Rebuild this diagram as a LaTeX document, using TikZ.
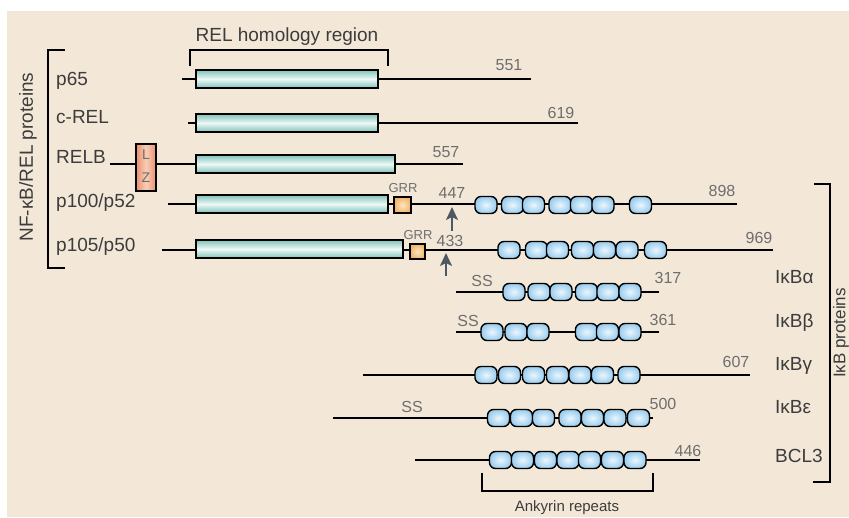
\documentclass[tikz,border=0pt]{standalone}
\usepackage{fontspec}
\setmainfont{Liberation Sans}
\usetikzlibrary{arrows.meta}
\definecolor{bg}{HTML}{F3E8D8}
\definecolor{relteal}{HTML}{7FC2B8}
\definecolor{relhi}{HTML}{EEF9F6}
\definecolor{ankblue}{HTML}{9CCDEE}
\definecolor{ankhi}{HTML}{EAF6FD}
\definecolor{grrorange}{HTML}{F3B46A}
\definecolor{grrhi}{HTML}{FDE6C4}
\definecolor{lzred}{HTML}{E9906E}
\definecolor{lzhi}{HTML}{F8CDB6}
\definecolor{labelgray}{HTML}{3C3C3C}
\definecolor{numgray}{HTML}{6E6E6E}
\definecolor{arrowgray}{HTML}{4C5863}
\begin{document}
\begin{tikzpicture}[x=1pt,y=-1pt,
 bb/.style={line width=1.6pt, draw=black},
 relbar/.style={draw=black, line width=1.6pt, top color=relteal, bottom color=relteal, middle color=relhi, minimum height=18pt, inner sep=0pt},
 ank/.style={draw=black, line width=1.4pt, rounded corners=6pt, inner color=ankhi, outer color=ankblue, minimum width=22pt, minimum height=17pt, inner sep=0pt},
 grrbox/.style={draw=black, line width=1.4pt, inner color=grrhi, outer color=grrorange, minimum width=16pt, minimum height=16pt, inner sep=0pt},
 lzbox/.style={draw=black, line width=1.4pt, left color=lzred, right color=lzred, middle color=lzhi, minimum width=20pt, minimum height=47pt, inner sep=0pt},
 lab/.style={font=\fontsize{19}{21}\selectfont, text=labelgray, inner sep=0pt, anchor=base west},
 num/.style={font=\fontsize{16}{18}\selectfont, text=numgray, inner sep=0pt},
 grrtext/.style={font=\fontsize{13}{15}\selectfont, text=numgray, inner sep=0pt},
 brk/.style={line width=1.8pt, draw=black},
 uparrow/.style={line width=2.2pt, draw=arrowgray, -{Stealth[length=13pt,width=12pt,inset=3pt]}},
]
\fill[white] (0,0) rectangle (849,517);
\fill[bg] (7,11) rectangle (849,517);
\useasboundingbox (0,0) rectangle (849,517);

% ---------- brackets ----------
\draw[brk] (65,50) -- (48,50) -- (48,268) -- (65,268);
\node[rotate=90, font=\fontsize{19}{21}\selectfont, text=labelgray, inner sep=0pt] (nfk) at (28,157) {NF-κB/REL proteins};
\draw[brk] (814,184) -- (830,184) -- (830,482) -- (813,482);
\node[rotate=90, font=\fontsize{17}{19}\selectfont, text=labelgray, inner sep=0pt] (ikbp) at (841,333) {IκB proteins};
\draw[brk] (190,66) -- (190,50) -- (388,50) -- (388,66);
\node[font=\fontsize{19}{21}\selectfont, text=labelgray, inner sep=0pt, anchor=base] (relh) at (287,41) {REL homology region};
\draw[brk] (482,473) -- (482,491) -- (653,491) -- (653,473);
\node[font=\fontsize{15}{17}\selectfont, text=labelgray, inner sep=0pt, anchor=base] (ankl) at (567,511) {Ankyrin repeats};

% ---------- p65 ----------
\coordinate (p65s) at (182,79); \coordinate (p65e) at (531,79);
\draw[bb] (p65s) -- (p65e);
\node[relbar, minimum width=182pt] (p65r) at (287,79) {};
\node[lab] (p65l) at (56,85) {p65};
\node[num] (p65n) at (509,65) {551};

% ---------- c-REL ----------
\coordinate (crs) at (188,123); \coordinate (cre) at (578,123);
\draw[bb] (crs) -- (cre);
\node[relbar, minimum width=182pt] (crr) at (287,123) {};
\node[lab] (crl) at (56,123) {c-REL};
\node[num] (crn) at (561,113) {619};

% ---------- RELB ----------
\coordinate (rbs) at (110,164); \coordinate (rbe) at (463,164);
\draw[bb] (rbs) -- (rbe);
\node[relbar, minimum width=199pt] (rbr) at (295.5,164) {};
\node[lzbox] (lz) at (146,167.5) {};
\node[grrtext, font=\fontsize{14}{16}\selectfont] (lzL) at (146,155) {L};
\node[grrtext, font=\fontsize{14}{16}\selectfont] (lzZ) at (146,178) {Z};
\node[lab] (rbl) at (56,163) {RELB};
\node[num] (rbn) at (446,152) {557};

% ---------- p100/p52 ----------
\coordinate (p100s) at (168,204); \coordinate (p100e) at (737,204);
\draw[bb] (p100s) -- (p100e);
\node[relbar, minimum width=192pt] (p100r) at (292,204) {};
\node[grrbox, minimum width=17pt] (p100g) at (402.5,205) {};
\node[grrtext] (p100gt) at (403,188) {GRR};
\node[num] (p100n1) at (452,193) {447};
\coordinate (a100s) at (452,231); \coordinate (a100e) at (452,207);
\draw[uparrow] (a100s) -- (a100e);
\foreach \c [count=\i] in {486,512.5,533.5,560,581.5,603,640.5}
  \node[ank] (p100a\i) at (\c,205) {};
\node[lab] (p100l) at (56,207) {p100/p52};
\node[num] (p100n) at (722,191) {898};

% ---------- p105/p50 ----------
\coordinate (p105s) at (162,250); \coordinate (p105e) at (773,250);
\draw[bb] (p105s) -- (p105e);
\node[relbar, minimum width=207pt] (p105r) at (299.5,249) {};
\node[grrbox, minimum width=15pt, minimum height=15pt] (p105g) at (417.5,251.5) {};
\node[grrtext] (p105gt) at (418,235) {GRR};
\node[num] (p105n1) at (450,241) {433};
\coordinate (a105s) at (446,276); \coordinate (a105e) at (446,253);
\draw[uparrow] (a105s) -- (a105e);
\foreach \c [count=\i] in {509,536.5,557.5,582.5,604.5,627,655.5}
  \node[ank] (p105a\i) at (\c,250) {};
\node[lab] (p105l) at (56,251) {p105/p50};
\node[num] (p105n) at (759,238) {969};

% ---------- IkBa ----------
\coordinate (ias) at (456,292); \coordinate (iae) at (659,292);
\draw[bb] (ias) -- (iae);
\foreach \c [count=\i] in {514,539,561,586.5,608,630}
  \node[ank] (iaa\i) at (\c,292) {};
\node[num] (iass) at (482,281) {SS};
\node[num] (ian) at (668,278) {317};
\node[lab] (ial) at (775,283) {IκBα};

% ---------- IkBb ----------
\coordinate (ibs) at (456,332); \coordinate (ibe) at (659,332);
\draw[bb] (ibs) -- (ibe);
\foreach \c [count=\i] in {492,516,538,586.5,607.5,630}
  \node[ank] (iba\i) at (\c,332) {};
\node[num] (ibss) at (468,321) {SS};
\node[num] (ibn) at (663,320) {361};
\node[lab] (ibl) at (775,327) {IκBβ};

% ---------- IkBg ----------
\coordinate (igs) at (363,375); \coordinate (ige) at (750,375);
\draw[bb] (igs) -- (ige);
\foreach \c [count=\i] in {486,509.5,533.5,557.5,580,602.5,629}
  \node[ank] (iga\i) at (\c,375) {};
\node[num] (ign) at (736,362) {607};
\node[lab] (igl) at (775,370) {IκBγ};

% ---------- IkBe ----------
\coordinate (ies) at (333,418); \coordinate (iee) at (653,418);
\draw[bb] (ies) -- (iee);
\foreach \c [count=\i] in {498.5,521.5,543.5,570,592.5,615,638.5}
  \node[ank] (iea\i) at (\c,418) {};
\node[num] (iess) at (412,407) {SS};
\node[num] (ien) at (663,404) {500};
\node[lab] (iel) at (775,413) {IκBε};

% ---------- BCL3 ----------
\coordinate (bcs) at (415,460); \coordinate (bce) at (700,460);
\draw[bb] (bcs) -- (bce);
\foreach \c [count=\i] in {500.5,522.5,545.5,568,589.5,612.5,635}
  \node[ank] (bca\i) at (\c,460) {};
\node[num] (bcn) at (688,451) {446};
\node[lab] (bcl) at (775,462) {BCL3};
\end{tikzpicture}
\end{document}
